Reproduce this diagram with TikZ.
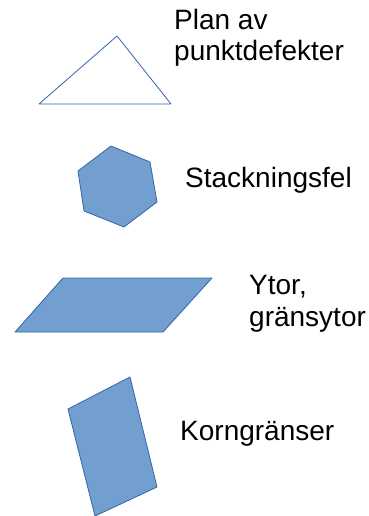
\documentclass[tikz,border=0pt]{standalone}
\usepackage{fontspec}
\setmainfont{Liberation Sans}
\definecolor{fyll}{HTML}{729FCF}
\definecolor{linje}{HTML}{3465A4}
\begin{document}
\begin{tikzpicture}
    [x=1pt, y=-1pt,
      every node/.style={inner sep=0pt, anchor=base west, align=left,
        font=\fontsize{28}{31.5}\selectfont},
      form/.style={draw=linje, fill=fyll, line width=0.8pt, line join=round},
      kontur/.style={draw=linje, line width=0.8pt, line join=round}]
    \useasboundingbox (0,0) rectangle (368,516);
    % triangel
    \draw[kontur] (39,104) -- (117,36) -- (171,104) -- cycle;
    \node (plan) at (174,61) {Plan av\\punktdefekter};
    % sexhorning
    \draw[form] (111,146) -- (150,162) -- (157,202) -- (124,227)
      -- (84,211) -- (78,171) -- cycle;
    \node (stack) at (185,187) {Stackningsfel};
    % parallellogram
    \draw[form] (63,278) -- (212,278) -- (163,332) -- (15,332) -- cycle;
    \node (ytor) at (249,326) {Ytor,\\gränsytor};
    % rektangel
    \draw[form] (130,377) -- (157,487) -- (95,516) -- (68,409) -- cycle;
    \node (korn) at (180,440) {Korngränser};
  \end{tikzpicture}
\end{document}
